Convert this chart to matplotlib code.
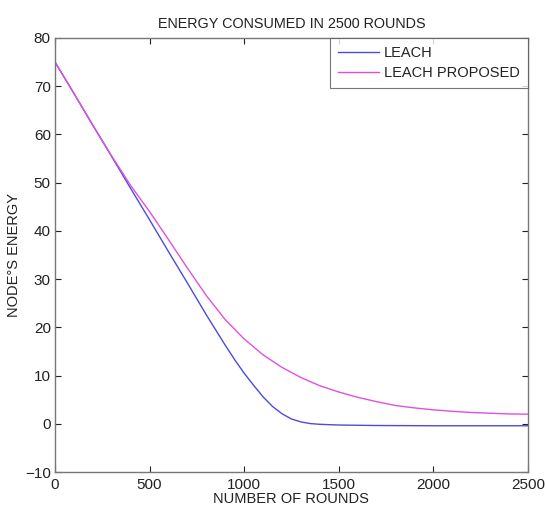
import matplotlib
matplotlib.use("Agg")
import matplotlib.pyplot as plt

plt.rcParams['font.family'] = ['Liberation Sans', 'DejaVu Sans']

title = "ENERGY CONSUMED IN 2500 ROUNDS"
xlabel = "NUMBER OF ROUNDS"
ylabel = "NODE°S ENERGY"
series_names = ["LEACH", "LEACH PROPOSED"]

leach_rounds = [0, 100, 200, 300, 400, 500, 600, 700, 800, 900, 950, 1000, 1050,
                1100, 1150, 1200, 1250, 1300, 1350, 1400, 1500, 1700, 2000, 2500]
leach_energy = [75, 68.5, 61.9, 55.4, 48.8, 42.3, 35.7, 29.2, 22.6, 16.3, 13.3, 10.5, 8.0,
                5.6, 3.6, 2.1, 1.0, 0.4, 0.05, -0.1, -0.25, -0.35, -0.4, -0.4]

prop_rounds = [0, 100, 200, 300, 400, 500, 600, 700, 800, 900, 1000, 1100, 1200,
               1300, 1400, 1500, 1600, 1700, 1800, 1900, 2000, 2100, 2200, 2300, 2400, 2500]
prop_energy = [75, 68.5, 61.9, 55.5, 49.4, 44.0, 38.2, 32.3, 26.6, 21.6, 17.6, 14.3, 11.7,
               9.6, 7.9, 6.6, 5.5, 4.6, 3.8, 3.3, 2.9, 2.6, 2.35, 2.2, 2.05, 2.0]

xticks = [0, 500, 1000, 1500, 2000, 2500]
yticks = [-10, 0, 10, 20, 30, 40, 50, 60, 70, 80]

fig = plt.figure(figsize=(5.46, 5.12), dpi=100)
ax = fig.add_axes([0.1007, 0.078, 0.866, 0.848])

ax.plot(leach_rounds, leach_energy, color='#4b4bde', lw=1.0, label=series_names[0])
ax.plot(prop_rounds, prop_energy, color='#e24fe0', lw=1.0, label=series_names[1])

ax.set_xlim(0, 2500)
ax.set_ylim(-10, 80)
ax.set_xticks(xticks)
ax.set_yticks(yticks)
ax.tick_params(direction='in', length=4, width=0.8, top=True, right=True,
               labelsize=11, colors='#222222', pad=3)
ax.tick_params(axis='x', pad=4)
for s in ax.spines.values():
    s.set_color('#777777')
    s.set_linewidth(1.0)

ax.set_title(title, fontsize=10.4, color='#222222', pad=7)
ax.set_xlabel(xlabel, fontsize=10.5, color='#222222', labelpad=0)
ax.set_ylabel(ylabel, fontsize=10.5, color='#222222', labelpad=3)

leg = ax.legend(loc='upper right', fontsize=10.5, frameon=True, fancybox=False,
                borderaxespad=0, handlelength=2.8, borderpad=0.55, labelspacing=0.45,
                handletextpad=0.35)
leg.get_frame().set_edgecolor('#555555')
leg.get_frame().set_linewidth(0.8)
for t in leg.get_texts():
    t.set_color('#222222')

fig.savefig("out.png", dpi=100)
